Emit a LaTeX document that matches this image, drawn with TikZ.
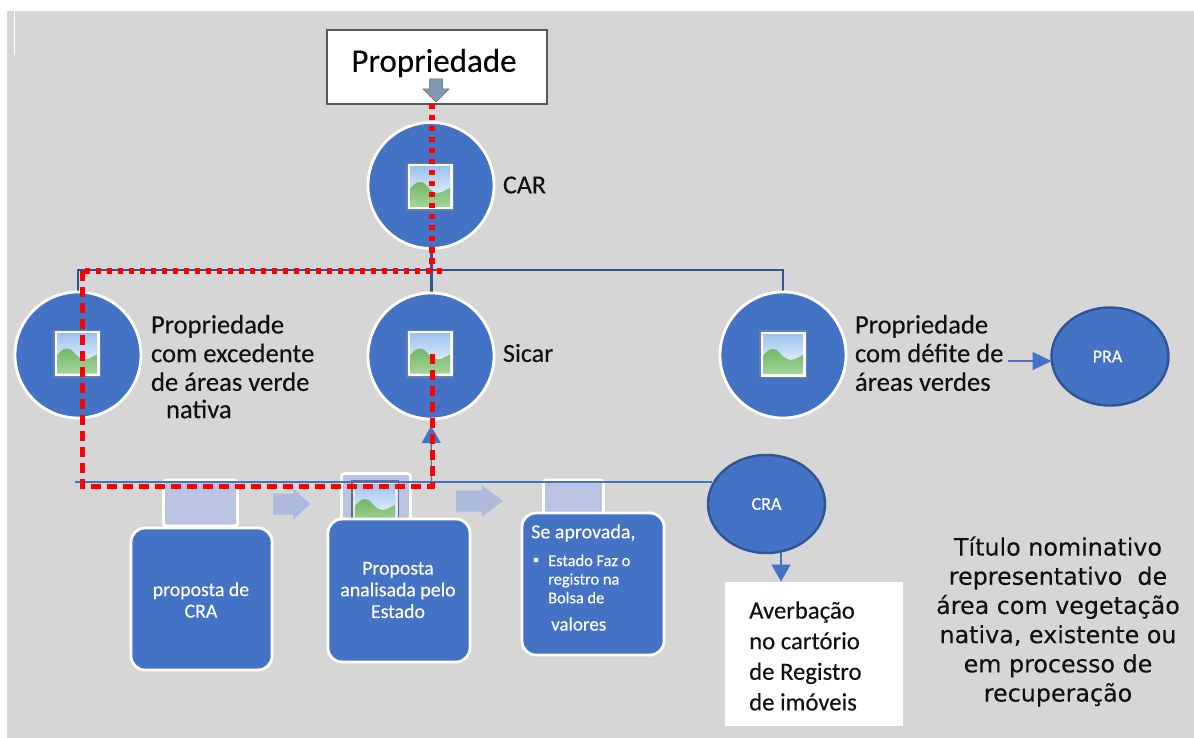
\documentclass[tikz,border=0pt]{standalone}
\usepackage{fontspec}
\setmainfont[FakeBold=0.25]{Carlito}
\newfontfamily\vfont[FakeBold=0.15]{DejaVu Sans}
\usetikzlibrary{arrows.meta,calc,shapes.geometric}
\definecolor{bgray}{HTML}{D6D6D6}
\definecolor{bluefill}{HTML}{4472C4}
\definecolor{bluedark}{HTML}{2F5597}
\definecolor{paleblue}{HTML}{B9C4E2}
\definecolor{chev}{HTML}{AEB9DE}
\definecolor{skytop}{HTML}{9CC3EE}
\definecolor{greentop}{HTML}{6DB562}
\definecolor{greenbot}{HTML}{A4D59B}
\definecolor{arrowgray}{HTML}{8497B0}
\definecolor{redline}{HTML}{FF0000}
\definecolor{inkblack}{HTML}{111111}
\tikzset{
  x=1pt,y=-1pt,
  hub/.style={circle,draw=white,line width=2.8pt,fill=bluefill,minimum size=126pt,inner sep=0pt,outer sep=0pt},
  oval/.style={ellipse,draw=bluedark,line width=2.4pt,fill=bluefill,inner sep=0pt,outer sep=0pt,minimum width=117pt,minimum height=98pt,text=white,font=\fontsize{18}{20}\selectfont},
  bigbox/.style={rectangle,rounded corners=14pt,draw=white,line width=2.8pt,fill=bluefill,inner sep=0pt,outer sep=0pt,text=white},
  tabbox/.style={rectangle,rounded corners=3pt,draw=white,line width=2.8pt,fill=paleblue,inner sep=0pt,outer sep=0pt},
  sidelabel/.style={inner sep=0pt,outer sep=0pt,align=left,anchor=west,text=inkblack,font=\fontsize{26.6}{28.7}\selectfont},
  wire/.style={draw=bluedark,line width=2.8pt},
  thin wire/.style={draw=bluefill,line width=1.1pt},
  headed/.style={-{Triangle[length=17pt,width=19pt]}},
  red dots/.style={draw=redline,line width=5.4pt,dash pattern=on 5.5pt off 5.5pt},
  red dash/.style={draw=redline,line width=5pt,dash pattern=on 10pt off 6pt},
  photo/.pic={
    \fill[bluedark!75!white] (-24,-24) rectangle (24,24);
    \fill[white] (-22.5,-22.5) rectangle (22.5,22.5);
    \shade[top color=skytop,bottom color=white] (-20,-20) rectangle (20,20);
    \shade[top color=greentop,bottom color=greenbot]
      (-20,20) -- (-20,2) .. controls (-14,-6) and (-9,-7) .. (-4,-2)
      .. controls (1,4) and (6,8) .. (12,5) -- (20,1) -- (20,20) -- cycle;
  },
  fadedphoto/.pic={
    \fill[black!45!paleblue] (-24,-24) rectangle (24,24);
    \fill[white!60!paleblue] (-22.5,-22.5) rectangle (22.5,22.5);
    \shade[top color=skytop,bottom color=white] (-20,-20) rectangle (20,20);
    \shade[top color=greentop,bottom color=greenbot]
      (-20,20) -- (-20,2) .. controls (-14,-6) and (-9,-7) .. (-4,-2)
      .. controls (1,4) and (6,8) .. (12,5) -- (20,1) -- (20,20) -- cycle;
  },
  chevron/.pic={
    \fill[chev] (0,-10.5) -- (0.55,-10.5) -- (0.55,-15.5) -- (1,0) -- (0.55,15.5) -- (0.55,10.5) -- (0,10.5) -- cycle;
  }
}
\begin{document}
\begin{tikzpicture}
\useasboundingbox (0,0) rectangle (1194,738);
\fill[white] (0,0) rectangle (1194,738);
\fill[bgray] (7,11) rectangle (1194,738);
\draw[white,line width=1pt] (14,11) -- (14,55);

% junction coordinates
\coordinate (busL) at (78,270);
\coordinate (busM) at (431.5,270);
\coordinate (busR) at (783,270);
\coordinate (railL) at (75,482);
\coordinate (railM) at (431.5,482);
\coordinate (railR) at (712,482);
\coordinate (redTop) at (432,104);
\coordinate (redBusEnd) at (442,271);
\coordinate (redBusMid) at (432,271);
\coordinate (redCornerTL) at (82,271);
\coordinate (redCornerBL) at (82,486.5);
\coordinate (redCornerBR) at (432,486.5);
\coordinate (redEnd) at (432,350);

% blue tree lines, below the circles
\draw[wire] (busL) ++(0,22) -- (busL) -- (busR) -- ++(0,22);
\draw[wire] (431.5,250) -- (busM) -- (431.5,292);

\node[hub] (car) at (431,185.5) {};
\node[hub] (excedente) at (78,355) {};
\node[hub] (sicar) at (431,356) {};
\node[hub] (defice) at (783,355) {};
\pic at (430,187) {photo};
\pic at (77,353.5) {photo};
\pic at (430,353.5) {photo};
\pic at (783,354) {photo};

% title box
\node[rectangle,draw=black!65,line width=1.4pt,fill=white,minimum width=220pt,minimum height=74pt,inner sep=0pt,outer sep=0pt] (prop) at (437,67) {};
\node[inner sep=0pt,font=\fontsize{33}{36}\selectfont,text=black] (proptext) at (434,63) {Propriedade};
\fill[arrowgray,draw=arrowgray!70!black,line width=.5pt] (429.5,79) -- (442.5,79) -- (442.5,89) -- (449,89) -- (436,102) -- (423,89) -- (429.5,89) -- cycle;

% labels
\node[sidelabel,font=\fontsize{26}{26}\selectfont] (carlabel) at (503,185) {CAR};
\node[sidelabel,font=\fontsize{26}{26}\selectfont] (sicarlabel) at (503,353) {Sicar};
\node[sidelabel] (exclabel) at (151,353) {Propriedade\\com excedente\\de áreas verde};
\node[sidelabel] (exclabel2) at (166,409) {nativa};
\node[sidelabel] (deflabel) at (855,353) {Propriedade\\com défite de\\áreas verdes};

% PRA / CRA
\node[oval] (pra) at (1110,356.5) {\hspace*{-5pt}PRA};
\coordinate (praIn) at (1008,361);
\draw[thin wire,-{Triangle[length=19pt,width=18pt]}] (praIn) -- (praIn -| pra.west);

% tabs
\node[tabbox,minimum width=74pt,minimum height=46pt] (tabA) at (200.5,503) {};
\node[tabbox,minimum width=69pt,minimum height=47pt] (tabB) at (376,497) {};
\begin{scope}
  \clip (340,470) rectangle (412,520);
  \pic at (375,504) {fadedphoto};
\end{scope}
\node[tabbox,minimum width=60pt,minimum height=40pt] (tabC) at (573.5,500) {};

% chevrons
\pic[xscale=37] at (273,504) {chevron};
\pic[xscale=47] at (456,501) {chevron};

% big boxes
\node[bigbox,minimum width=141pt,minimum height=142pt] (boxA) at (201.5,599) {};
\node[bigbox,minimum width=142pt,minimum height=143pt] (boxB) at (399,590.5) {};
\node[bigbox,minimum width=142pt,minimum height=142pt] (boxC) at (593,584) {};

\node[inner sep=0pt,align=center,text=white,font=\fontsize{19.8}{21.5}\selectfont] (boxAtext) at (201,600) {proposta de\\CRA};
\node[inner sep=0pt,align=center,text=white,font=\fontsize{19.8}{21.7}\selectfont] (boxBtext) at (398,590) {Proposta\\analisada pelo\\Estado};
\node[inner sep=0pt,anchor=west,text=white,font=\fontsize{20}{22}\selectfont] (se) at (531,533) {Se aprovada,};
\node[circle,fill=white,minimum size=5pt,inner sep=0pt] (bullet) at (536,560) {};
\node[inner sep=0pt,anchor=west,align=left,text=white,font=\fontsize{16.4}{18.6}\selectfont] (estado) at (548,579) {Estado Faz o\\registro na\\Bolsa de};
\node[inner sep=0pt,anchor=west,text=white,font=\fontsize{19}{21}\selectfont] (valores) at (551,624) {valores};

% rail and CRA
\draw[thin wire] (railL) -- (railR);
\draw[thin wire,headed] (railM) -- (sicar.south) [shorten >=7pt];
\node[oval] (cra) at (766.5,504) {CRA};
\node[rectangle,fill=white,minimum width=178pt,minimum height=144pt,inner sep=0pt,outer sep=0pt] (averb) at (814,653.5) {};
\node[inner sep=0pt,anchor=west,align=left,text=inkblack,font=\fontsize{24.7}{30.6}\selectfont] (averbtext) at (749,656) {Averbação\\no cartório\\de Registro\\de imóveis};
\coordinate (craOut) at (781,553);
\draw[thin wire,headed] (craOut) -- (craOut |- averb.north);

\node[inner sep=0pt,align=center,text=inkblack,font=\vfont\fontsize{23.8}{29.2}\selectfont] (titulo) at (1058,621.5) {Título nominativo\\representativo\ \ de\\área com vegetação\\nativa, existente ou\\em processo de\\recuperação};

% red route on top
\draw[red dots] (redTop) -- (redBusMid);
\draw[red dots] (redBusEnd) -- (redCornerTL);
\draw[red dash] (redCornerTL) -- (redCornerBL) -- (redCornerBR) -- (redEnd);
\end{tikzpicture}
\end{document}
